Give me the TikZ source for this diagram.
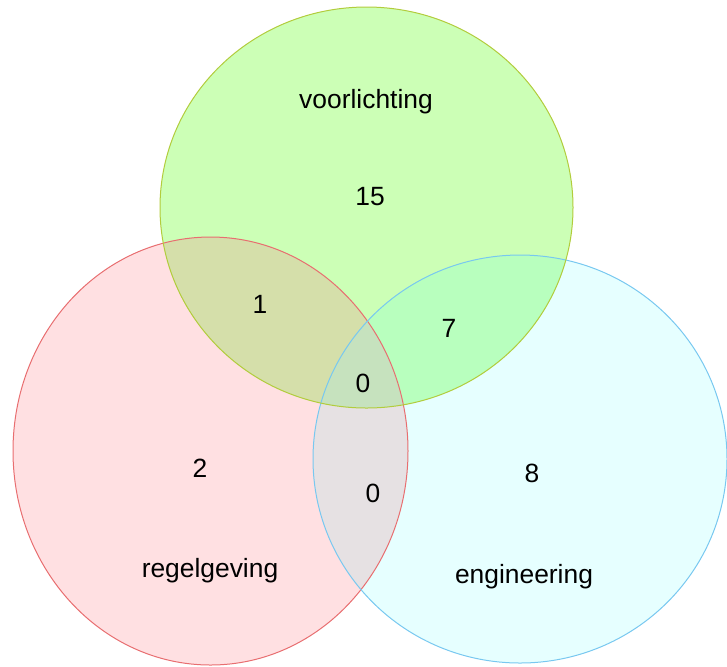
\documentclass[tikz,border=0pt]{standalone}
\usepackage{fontspec}
\setmainfont{Liberation Sans}
\definecolor{gfill}{RGB}{204,255,182}
\definecolor{rfill}{RGB}{255,224,226}
\definecolor{cfill}{RGB}{230,255,255}
\definecolor{rgfill}{RGB}{213,223,170}
\definecolor{gcfill}{RGB}{184,255,190}
\definecolor{rcfill}{RGB}{230,225,227}
\definecolor{allfill}{RGB}{198,226,190}
\definecolor{gline}{RGB}{178,204,60}
\definecolor{rline}{RGB}{232,110,112}
\definecolor{cline}{RGB}{120,200,240}
\begin{document}
\begin{tikzpicture}[x=0.5pt,y=-0.5pt,
  lbl/.style={font=\fontsize{13.2}{16}\selectfont, anchor=base, inner sep=0pt},
  outline/.style={line width=0.5pt}]
\useasboundingbox (0,0) rectangle (727,666);
% solo fills
\fill[rfill] (210.5,451) ellipse [x radius=197.5, y radius=214];
\fill[cfill] (520,459) ellipse [x radius=207, y radius=204];
\fill[gfill] (366.5,207.5) ellipse [x radius=206.5, y radius=200.5];
% pairwise overlaps
\begin{scope}
  \clip (210.5,451) ellipse [x radius=197.5, y radius=214];
  \fill[rgfill] (366.5,207.5) ellipse [x radius=206.5, y radius=200.5];
  \fill[rcfill] (520,459) ellipse [x radius=207, y radius=204];
\end{scope}
\begin{scope}
  \clip (366.5,207.5) ellipse [x radius=206.5, y radius=200.5];
  \fill[gcfill] (520,459) ellipse [x radius=207, y radius=204];
\end{scope}
\begin{scope}
  \clip (210.5,451) ellipse [x radius=197.5, y radius=214];
  \clip (366.5,207.5) ellipse [x radius=206.5, y radius=200.5];
  \fill[allfill] (520,459) ellipse [x radius=207, y radius=204];
\end{scope}
% outlines
\draw[outline, rline] (210.5,451) ellipse [x radius=197.5, y radius=214];
\draw[outline, cline] (520,459) ellipse [x radius=207, y radius=204];
\draw[outline, gline] (366.5,207.5) ellipse [x radius=206.5, y radius=200.5];
% labels
\node[lbl] (tv) at (366,108) {voorlichting};
\node[lbl] (n15) at (370,205) {15};
\node[lbl] (n1) at (260,313) {1};
\node[lbl] (n7) at (449,337) {7};
\node[lbl] (n0a) at (363,392) {0};
\node[lbl] (n2) at (200,477) {2};
\node[lbl] (n0b) at (373,502) {0};
\node[lbl] (tr) at (210,577) {regelgeving};
\node[lbl] (n8) at (532,482) {8};
\node[lbl] (te) at (524,583) {engineering};
\end{tikzpicture}
\end{document}
